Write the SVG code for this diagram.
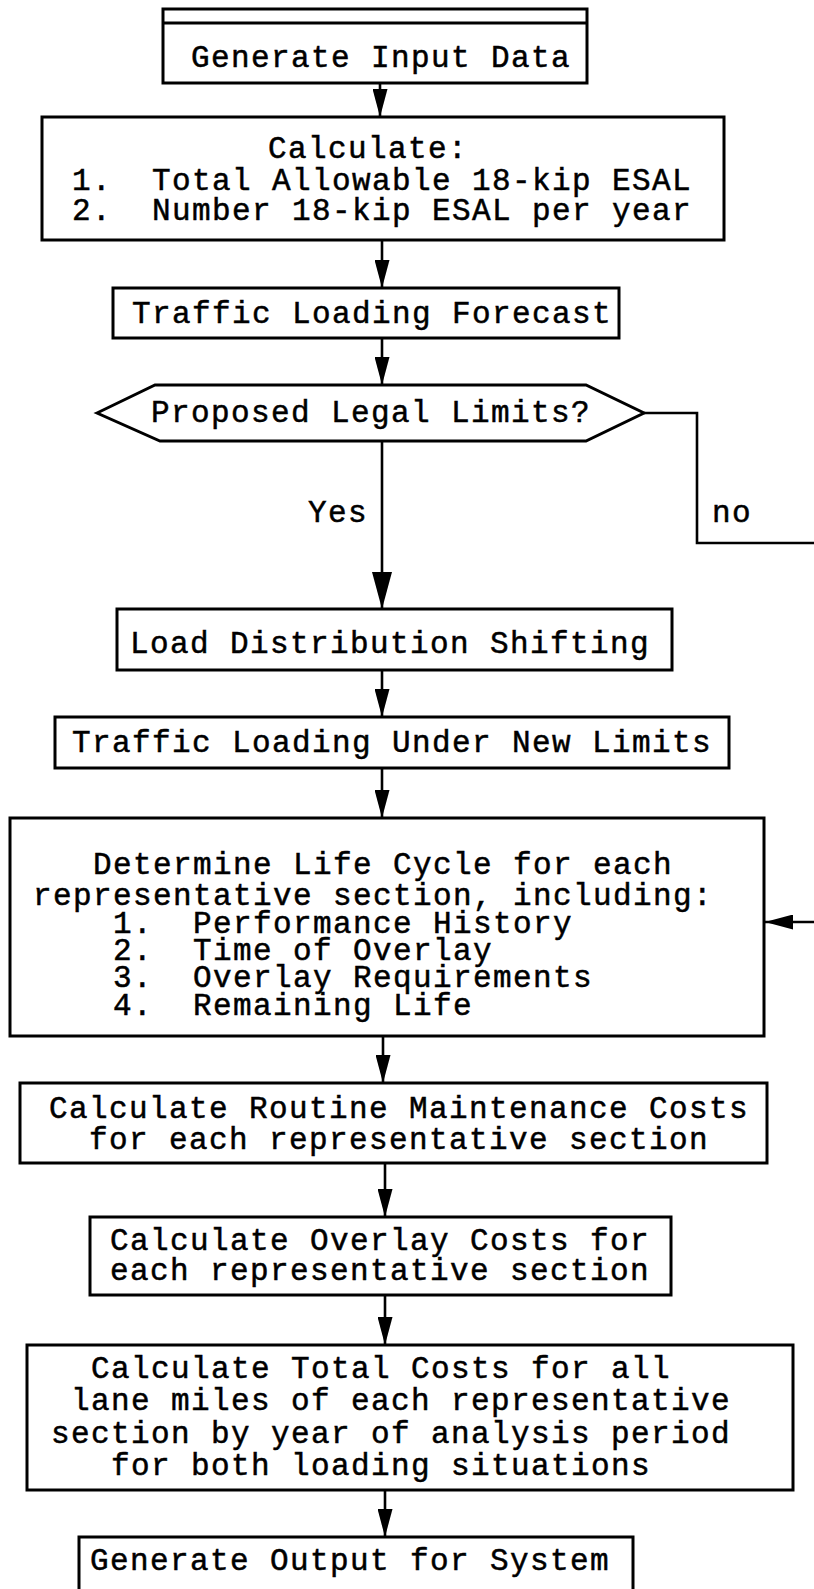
<svg xmlns="http://www.w3.org/2000/svg" width="814" height="1589" viewBox="0 0 814 1589">
<style>
.box{fill:#fff;stroke:#000;stroke-width:3}
.t{font-family:"Liberation Mono","Courier New",monospace;font-size:31px;letter-spacing:1.4px;fill:#000;stroke:#000;stroke-width:0.5}
.c{fill:none;stroke:#000;stroke-width:2.6}
</style>
<defs>
<marker id="ah" markerUnits="userSpaceOnUse" markerWidth="28" markerHeight="15" refX="28" refY="7.5" orient="auto" viewBox="0 0 28 15"><path d="M0,0 L28,7.5 L0,15 Z" fill="#000"/></marker>
<marker id="ahBig" markerUnits="userSpaceOnUse" markerWidth="37" markerHeight="20" refX="37" refY="10" orient="auto" viewBox="0 0 37 20"><path d="M0,0 L37,10 L0,20 Z" fill="#000"/></marker>
</defs>
<rect width="814" height="1589" fill="#fff"/>
<g id="connectors">
<path class="c" d="M380,83 V117" marker-end="url(#ah)"/>
<path class="c" d="M382,240 V288" marker-end="url(#ah)"/>
<path class="c" d="M382,338 V385" marker-end="url(#ah)"/>
<path class="c" d="M382,441 V609" marker-end="url(#ahBig)"/>
<path class="c" d="M382,670 V717" marker-end="url(#ah)"/>
<path class="c" d="M382,768 V818" marker-end="url(#ah)"/>
<path class="c" d="M383,1036 V1083" marker-end="url(#ah)"/>
<path class="c" d="M385,1163 V1217" marker-end="url(#ah)"/>
<path class="c" d="M385,1295 V1345" marker-end="url(#ah)"/>
<path class="c" d="M385,1490 V1537" marker-end="url(#ah)"/>
<path class="c" d="M644,413 H697 V543 H814"/>
<path class="c" d="M814,922 H765" marker-end="url(#ah)"/>
<text class="t" x="308" y="522">Yes</text>
<text class="t" x="712" y="522">no</text>
</g>
<g id="n1">
<rect class="box" x="163" y="9" width="424" height="74"/>
<line x1="163" y1="23" x2="587" y2="23" stroke="#000" stroke-width="3"/>
<text class="t" x="191" y="67">Generate Input Data</text>
</g>
<g id="n2">
<rect class="box" x="42" y="117" width="682" height="123"/>
<text class="t" x="268" y="158">Calculate:</text>
<text class="t" x="72" y="190" xml:space="preserve">1.  Total Allowable 18-kip ESAL</text>
<text class="t" x="72" y="220" xml:space="preserve">2.  Number 18-kip ESAL per year</text>
</g>
<g id="n3">
<rect class="box" x="113" y="288" width="506" height="50"/>
<text class="t" x="132" y="323">Traffic Loading Forecast</text>
</g>
<g id="n4">
<polygon class="box" points="97,413 155,385 586,385 644,413 586,441 160,441"/>
<text class="t" x="151" y="422">Proposed Legal Limits?</text>
</g>
<g id="n5">
<rect class="box" x="117" y="609" width="555" height="61"/>
<text class="t" x="130" y="653">Load Distribution Shifting</text>
</g>
<g id="n6">
<rect class="box" x="55" y="717" width="674" height="51"/>
<text class="t" x="72" y="752">Traffic Loading Under New Limits</text>
</g>
<g id="n7">
<rect class="box" x="10" y="818" width="754" height="218"/>
<text class="t" x="93" y="874">Determine Life Cycle for each</text>
<text class="t" x="33" y="905">representative section, including:</text>
<text class="t" x="113" y="933" xml:space="preserve">1.  Performance History</text>
<text class="t" x="113" y="960" xml:space="preserve">2.  Time of Overlay</text>
<text class="t" x="113" y="987" xml:space="preserve">3.  Overlay Requirements</text>
<text class="t" x="113" y="1015" xml:space="preserve">4.  Remaining Life</text>
</g>
<g id="n8">
<rect class="box" x="20" y="1083" width="747" height="80"/>
<text class="t" x="49" y="1118">Calculate Routine Maintenance Costs</text>
<text class="t" x="89" y="1149">for each representative section</text>
</g>
<g id="n9">
<rect class="box" x="90" y="1217" width="581" height="78"/>
<text class="t" x="110" y="1250">Calculate Overlay Costs for</text>
<text class="t" x="110" y="1280">each representative section</text>
</g>
<g id="n10">
<rect class="box" x="27" y="1345" width="766" height="145"/>
<text class="t" x="91" y="1378">Calculate Total Costs for all</text>
<text class="t" x="71" y="1410">lane miles of each representative</text>
<text class="t" x="51" y="1443">section by year of analysis period</text>
<text class="t" x="111" y="1475">for both loading situations</text>
</g>
<g id="n11">
<rect class="box" x="79" y="1537" width="554" height="70"/>
<text class="t" x="90" y="1570">Generate Output for System</text>
</g>
</svg>
